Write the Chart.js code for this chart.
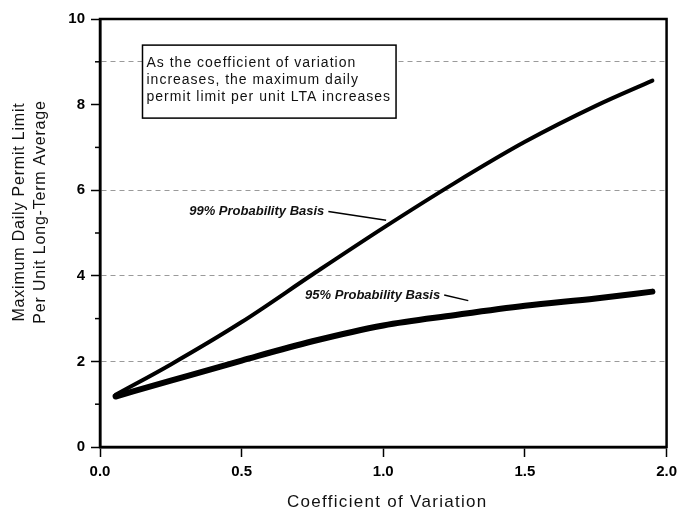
<!DOCTYPE html>
<html>
<head>
<meta charset="utf-8">
<script src="https://cdn.jsdelivr.net/npm/chart.js@4.4.1/dist/chart.umd.min.js"></script>
<style>
  html, body { margin: 0; padding: 0; background: #fff; }
  #wrap { width: 683px; height: 514px; }
</style>
</head>
<body>
<div id="wrap"><canvas id="chart" width="683" height="514"></canvas></div>
<script>
// Coefficient of variation (x) and permit limit per unit LTA (y)
const cv = [0.055, 0.25, 0.5, 0.75, 1.0, 1.25, 1.5, 1.75, 1.95];
const basis99 = [1.22, 1.93, 2.92, 4.03, 5.12, 6.16, 7.13, 7.97, 8.56];
const basis95 = [1.18, 1.55, 2.02, 2.47, 2.84, 3.08, 3.3, 3.47, 3.63];
const xTicks = [0, 0.5, 1.0, 1.5, 2.0];
const yLabels = [0, 2, 4, 6, 8, 10];
const gridLevels = [2, 4, 6, 9];
const noteLines = [
  'As the coefficient of variation',
  'increases, the maximum daily',
  'permit limit per unit LTA increases'
];
const label99 = '99% Probability Basis';
const label95 = '95% Probability Basis';
const xTitle = 'Coefficient of Variation';
const yTitle = ['Maximum Daily Permit Limit', 'Per Unit Long-Term Average'];

const FONT = '"Liberation Sans", Arial, Helvetica, sans-serif';

function pts(ys) {
  return cv.map((x, i) => ({ x: x, y: ys[i] }));
}

// draws the frame, note box, curve labels, minor ticks and axis titles
const decor = {
  id: 'decor',
  afterDraw(chart) {
    const ctx = chart.ctx;
    const a = chart.chartArea;
    const xs = chart.scales.x, ys = chart.scales.y;
    ctx.save();

    // minor ticks on y
    ctx.strokeStyle = '#000';
    ctx.lineWidth = 1.5;
    [1, 3, 5, 7, 9].forEach(v => {
      const py = ys.getPixelForValue(v);
      ctx.beginPath();
      ctx.moveTo(a.left - 5, py);
      ctx.lineTo(a.left, py);
      ctx.stroke();
    });

    // frame
    ctx.lineWidth = 2.5;
    ctx.strokeRect(a.left, a.top, a.right - a.left, a.bottom - a.top);

    // note box
    ctx.font = '14px ' + FONT;
    ctx.letterSpacing = '1px';
    let w = 0;
    noteLines.forEach(t => { w = Math.max(w, ctx.measureText(t).width); });
    const bx = xs.getPixelForValue(0.15);
    const by = ys.getPixelForValue(9.39);
    const bw = w + 9, bh = 73;
    ctx.fillStyle = '#fff';
    ctx.fillRect(bx, by, bw, bh);
    ctx.lineWidth = 1.5;
    ctx.strokeRect(bx, by, bw, bh);
    ctx.fillStyle = '#111';
    ctx.textBaseline = 'middle';
    ctx.textAlign = 'left';
    noteLines.forEach((t, i) => ctx.fillText(t, bx + 4, by + 18 + i * 17));

    // curve labels with leader lines
    ctx.font = 'italic bold 13px ' + FONT;
    ctx.letterSpacing = '0px';
    ctx.lineWidth = 1.5;
    function tag(text, x, y, ex, ey) {
      const px = xs.getPixelForValue(x), py = ys.getPixelForValue(y);
      ctx.fillText(text, px, py);
      const tw = ctx.measureText(text).width;
      ctx.beginPath();
      ctx.moveTo(px + tw + 4, py);
      ctx.lineTo(xs.getPixelForValue(ex), ys.getPixelForValue(ey));
      ctx.stroke();
    }
    tag(label99, 0.315, 5.5, 1.01, 5.3);
    tag(label95, 0.724, 3.55, 1.30, 3.42);

    // axis titles
    ctx.textAlign = 'center';
    ctx.font = '17px ' + FONT;
    ctx.letterSpacing = '1.3px';
    ctx.fillText(xTitle, (a.left + a.right) / 2 + 4, a.bottom + 55);

    ctx.font = '16px ' + FONT;
    ctx.letterSpacing = '0.8px';
    const cy = (a.top + a.bottom) / 2 - 21;
    [20, 41].forEach((x, i) => {
      ctx.save();
      ctx.translate(x, cy);
      ctx.rotate(-Math.PI / 2);
      ctx.fillText(yTitle[i], 0, 0);
      ctx.restore();
    });
    ctx.restore();
  }
};

new Chart(document.getElementById('chart'), {
  type: 'scatter',
  data: {
    datasets: [
      {
        label: label99,
        data: pts(basis99),
        showLine: true,
        borderColor: '#000',
        borderWidth: 4,
        pointRadius: 0,
        cubicInterpolationMode: 'monotone',
        borderCapStyle: 'round'
      },
      {
        label: label95,
        data: pts(basis95),
        showLine: true,
        borderColor: '#000',
        borderWidth: 6,
        pointRadius: 0,
        cubicInterpolationMode: 'monotone',
        borderCapStyle: 'round'
      }
    ]
  },
  options: {
    responsive: false,
    animation: false,
    devicePixelRatio: 1,
    layout: { padding: { top: 19, right: 12, left: 0, bottom: 0 } },
    plugins: { legend: { display: false }, tooltip: { enabled: false } },
    scales: {
      x: {
        type: 'linear',
        min: 0,
        max: 2,
        afterBuildTicks: s => { s.ticks = xTicks.map(v => ({ value: v })); },
        afterFit: s => { s.height = 67; },
        ticks: {
          color: '#000',
          padding: 6,
          font: { family: FONT, size: 15, weight: 'bold' },
          callback: v => v.toFixed(1)
        },
        grid: { display: true, drawOnChartArea: false, tickLength: 10, tickColor: '#000', tickWidth: 1.5 },
        border: { color: '#000', width: 2.5 }
      },
      y: {
        type: 'linear',
        min: 0,
        max: 10,
        afterBuildTicks: s => {
          const vals = yLabels.concat(gridLevels.filter(v => yLabels.indexOf(v) < 0));
          s.ticks = vals.sort((p, q) => p - q).map(v => ({ value: v }));
        },
        afterFit: s => { s.width = 100; },
        ticks: {
          color: '#000',
          padding: 6,
          font: { family: FONT, size: 15, weight: 'bold' },
          callback: v => (yLabels.indexOf(v) >= 0 ? String(v) : '')
        },
        grid: {
          tickLength: 9,
          lineWidth: 1,
          tickWidth: 1.5,
          color: c => (gridLevels.indexOf(c.tick.value) >= 0 ? '#9a9a9a' : 'rgba(0,0,0,0)'),
          tickColor: c => (yLabels.indexOf(c.tick.value) >= 0 ? '#000' : 'rgba(0,0,0,0)')
        },
        border: { color: '#000', width: 2.5, dash: [5, 4] }
      }
    }
  },
  plugins: [decor]
});
</script>
</body>
</html>
